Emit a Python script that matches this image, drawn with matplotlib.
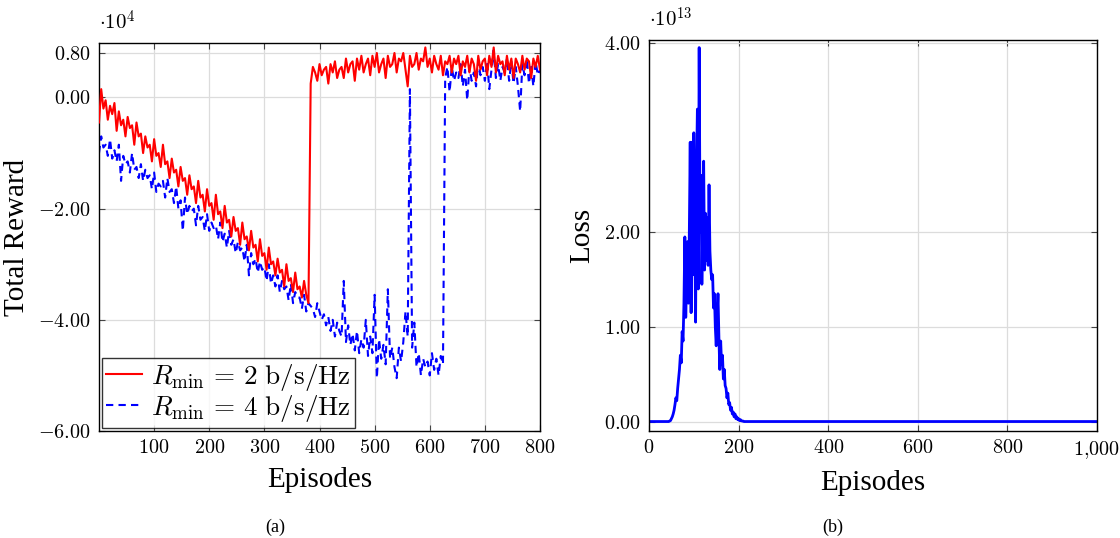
import numpy as np
import matplotlib
matplotlib.use("Agg")
import matplotlib.pyplot as plt

plt.rcParams["font.family"] = ["Liberation Serif", "DejaVu Serif"]
plt.rcParams["mathtext.fontset"] = "cm"

# ---------------------------------------------------------------- data (a)
# total reward in units of 1e4, one value every 4 episodes (0 .. 800)
reward_episodes = np.arange(0, 801, 4)
reward_rmin2 = [
    -0.45, 0.15, -0.2, -0.05, -0.4, -0.15, -0.3, -0.1, -0.6, -0.25,
    -0.5, -0.4, -0.7, -0.35, -0.55, -0.5, -0.85, -0.45, -0.7, -0.65,
    -1.0, -0.7, -0.9, -0.85, -1.15, -0.75, -1.05, -1.0, -1.25, -0.85,
    -1.2, -1.15, -1.45, -1.1, -1.35, -1.3, -1.6, -1.25, -1.5, -1.45,
    -1.75, -1.4, -1.65, -1.6, -1.9, -1.5, -1.8, -1.75, -2.05, -1.65,
    -1.95, -1.9, -2.2, -1.75, -2.1, -2.05, -2.35, -1.95, -2.25, -2.2,
    -2.5, -2.15, -2.4, -2.35, -2.65, -2.25, -2.55, -2.5, -2.75, -2.4,
    -2.7, -2.65, -2.95, -2.55, -2.85, -2.8, -3.1, -2.7, -3.0, -2.95,
    -3.2, -2.9, -3.15, -3.1, -3.4, -3.0, -3.3, -3.25, -3.5, -3.15,
    -3.45, -3.4, -3.6, -3.3, -3.55, -3.7, 0.25, 0.55, 0.45, 0.3,
    0.6, 0.4, 0.5, 0.55, 0.25, 0.6, 0.45, 0.65, 0.35, 0.5,
    0.55, 0.35, 0.7, 0.45, 0.6, 0.65, 0.3, 0.7, 0.5, 0.75,
    0.45, 0.6, 0.7, 0.4, 0.75, 0.55, 0.8, 0.45, 0.6, 0.7,
    0.35, 0.75, 0.55, 0.6, 0.8, 0.45, 0.7, 0.65, 0.8, 0.5,
    0.2, 0.75, 0.55, 0.6, 0.8, 0.5, 0.7, 0.65, 0.9, 0.55,
    0.7, 0.45, 0.75, 0.6, 0.5, 0.75, 0.4, 0.65, 0.6, 0.75,
    0.45, 0.7, 0.6, 0.75, 0.4, 0.65, 0.55, 0.75, 0.45, 0.7,
    0.6, 0.3, 0.75, 0.5, 0.65, 0.7, 0.4, 0.75, 0.55, 0.9,
    0.45, 0.75, 0.6, 0.65, 0.4, 0.75, 0.5, 0.7, 0.35, 0.7,
    0.6, 0.45, 0.75, 0.5, 0.7, 0.65, 0.35, 0.7, 0.55, 0.75,
    0.5,
]
reward_rmin4 = [
    -1.0, -0.7, -0.9, -0.85, -1.05, -0.75, -1.1, -0.95, -1.15, -0.85,
    -1.5, -1.05, -1.2, -1.15, -1.35, -1.0, -1.3, -1.25, -1.45, -1.2,
    -1.5, -1.3, -1.45, -1.4, -1.65, -1.35, -1.7, -1.55, -1.6, -1.5,
    -1.8, -1.45, -1.7, -1.65, -1.9, -1.6, -2.0, -1.85, -2.4, -1.8,
    -2.1, -1.95, -2.05, -2.0, -2.3, -1.95, -2.2, -2.15, -2.4, -2.1,
    -2.4, -2.25, -2.35, -2.3, -2.55, -2.25, -2.6, -2.45, -2.7, -2.4,
    -2.65, -2.55, -2.8, -2.6, -2.75, -2.7, -2.95, -2.65, -3.2, -2.8,
    -3.0, -2.9, -3.15, -2.95, -3.1, -3.05, -3.3, -3.0, -3.35, -3.2,
    -3.4, -3.2, -3.5, -3.3, -3.45, -3.4, -3.65, -3.35, -3.7, -3.5,
    -3.6, -3.6, -3.8, -3.55, -3.85, -3.7, -3.75, -3.8, -3.95, -3.7,
    -3.85, -4.0, -3.9, -4.1, -3.95, -4.2, -4.0, -4.3, -4.05, -4.2,
    -4.3, -3.3, -4.4, -4.1, -4.45, -4.25, -4.55, -4.2, -4.6, -4.35,
    -4.5, -4.0, -4.65, -4.3, -4.6, -3.55, -5.05, -4.35, -4.7, -4.45,
    -4.8, -3.45, -4.7, -4.5, -4.85, -5.05, -4.5, -4.75, -4.4, -3.85,
    -4.3, 0.15, -4.5, -4.05, -4.85, -4.6, -5.0, -4.7, -4.85, -4.75,
    -5.0, -4.6, -4.9, -4.7, -5.0, -4.65, -4.8, 0.35, 0.55, 0.1,
    0.55, 0.3, 0.45, 0.35, 0.6, 0.2, 0.5, -0.05, 0.55, 0.3,
    0.45, 0.2, 0.65, 0.4, 0.55, 0.3, 0.65, 0.15, 0.5, 0.85,
    0.35, 0.6, 0.3, 0.55, 0.45, 0.7, 0.3, 0.65, 0.25, 0.55,
    0.2, -0.25, 0.6, 0.4, 0.7, 0.25, 0.55, 0.2, 0.65, 0.4,
    0.5,
]
reward_yticks = [-6.0, -4.0, -2.0, 0.0, 0.8]
reward_xticks = [100, 200, 300, 400, 500, 600, 700, 800]

# ---------------------------------------------------------------- data (b)
# loss in units of 1e13; zero outside episodes 40 .. 212
loss_episodes = [0] + list(range(40, 214, 2)) + [1000]
loss_values = [
    0.0,
    0.0, 0.0, 0.0, 0.005, 0.01, 0.03, 0.05, 0.08, 0.12, 0.18,
    0.25, 0.22, 0.35, 0.45, 0.55, 0.7, 0.62, 0.95, 0.85, 1.25,
    1.95, 1.1, 1.5, 1.9, 1.25, 2.0, 2.95, 1.15, 2.95, 1.55,
    3.05, 2.1, 1.05, 2.6, 3.3, 1.4, 3.95, 2.0, 2.6, 1.45,
    2.1, 2.75, 1.6, 2.2, 1.7, 2.15, 1.65, 2.5, 1.8, 1.6,
    1.5, 1.55, 1.2, 1.35, 1.0, 0.8, 1.1, 1.35, 0.9, 0.55,
    0.85, 0.6, 0.7, 0.45, 0.55, 0.38, 0.35, 0.25, 0.3, 0.18,
    0.2, 0.12, 0.15, 0.08, 0.1, 0.05, 0.08, 0.03, 0.05, 0.02,
    0.03, 0.01, 0.02, 0.01, 0.005, 0.005, 0.0,
    0.0,
]
loss_yticks = [0.0, 1.0, 2.0, 4.0]
loss_xticks = [0, 200, 400, 600, 800, 1000]
loss_xlabels = ["0", "200", "400", "600", "800", "1{,}000"]


def style_axes(ax):
    ax.grid(True, color="#dcdcdc", linewidth=0.9)
    ax.set_axisbelow(True)
    ax.tick_params(direction="in", top=True, right=True, length=4,
                   width=0.8, color="#444444", labelsize=14.5, pad=6)
    for s in ax.spines.values():
        s.set_linewidth(1.0)
        s.set_color("black")


fig = plt.figure(figsize=(11.2, 5.38), dpi=100)

# ---------------------------------------------------------------- (a)
ax1 = fig.add_axes([99 / 1120, 1 - 431 / 538, 441 / 1120, 388 / 538])
ax1.plot(reward_episodes, reward_rmin2, color="#ff0000", lw=1.5,
         label=r"$R_{\min}\,=\,2\ \mathrm{b/s/Hz}$", zorder=3)
ax1.plot(reward_episodes, reward_rmin4, color="#0000ff", lw=1.5,
         dashes=(3.5, 2.5), label=r"$R_{\min}\,=\,4\ \mathrm{b/s/Hz}$", zorder=2)
ax1.set_xlim(0, 800)
ax1.set_ylim(-6.0, 0.98)
ax1.set_xticks(reward_xticks)
ax1.set_xticklabels([r"$%d$" % v for v in reward_xticks])
ax1.set_yticks(reward_yticks)
ax1.set_yticklabels([r"$%.2f$" % v for v in reward_yticks])
style_axes(ax1)
ax1.set_xlabel("Episodes", fontsize=21, labelpad=6)
ax1.set_ylabel("Total Reward", fontsize=21, labelpad=6)
ax1.text(0.0, 1.02, r"$\cdot 10^{4}$", transform=ax1.transAxes,
         fontsize=15, ha="left", va="bottom")
leg = ax1.legend(loc="lower left", fontsize=19.5, frameon=True, fancybox=False,
                 borderaxespad=0.12, handlelength=1.3, handletextpad=0.35,
                 labelspacing=0.0, borderpad=0.15)
leg.get_frame().set_edgecolor("black")
leg.get_frame().set_linewidth(1.0)
fig.text(275 / 1120, 1 - 527 / 538, "(a)", fontsize=13, ha="center", va="center")

# ---------------------------------------------------------------- (b)
ax2 = fig.add_axes([649 / 1120, 1 - 431 / 538, 448 / 1120, 391 / 538])
ax2.plot(loss_episodes, loss_values, color="#0000ff", lw=2.0)
ax2.set_xlim(0, 1000)
ax2.set_ylim(-0.1, 4.03)
ax2.set_xticks(loss_xticks)
ax2.set_xticklabels([r"$%s$" % s for s in loss_xlabels])
ax2.set_yticks(loss_yticks)
ax2.set_yticklabels([r"$%.2f$" % v for v in loss_yticks])
style_axes(ax2)
ax2.set_xlabel("Episodes", fontsize=21, labelpad=6)
ax2.set_ylabel("Loss", fontsize=21, labelpad=6)
ax2.text(0.0, 1.02, r"$\cdot 10^{13}$", transform=ax2.transAxes,
         fontsize=15, ha="left", va="bottom")
fig.text(833 / 1120, 1 - 527 / 538, "(b)", fontsize=13, ha="center", va="center")

fig.savefig("out.png", dpi=100)
